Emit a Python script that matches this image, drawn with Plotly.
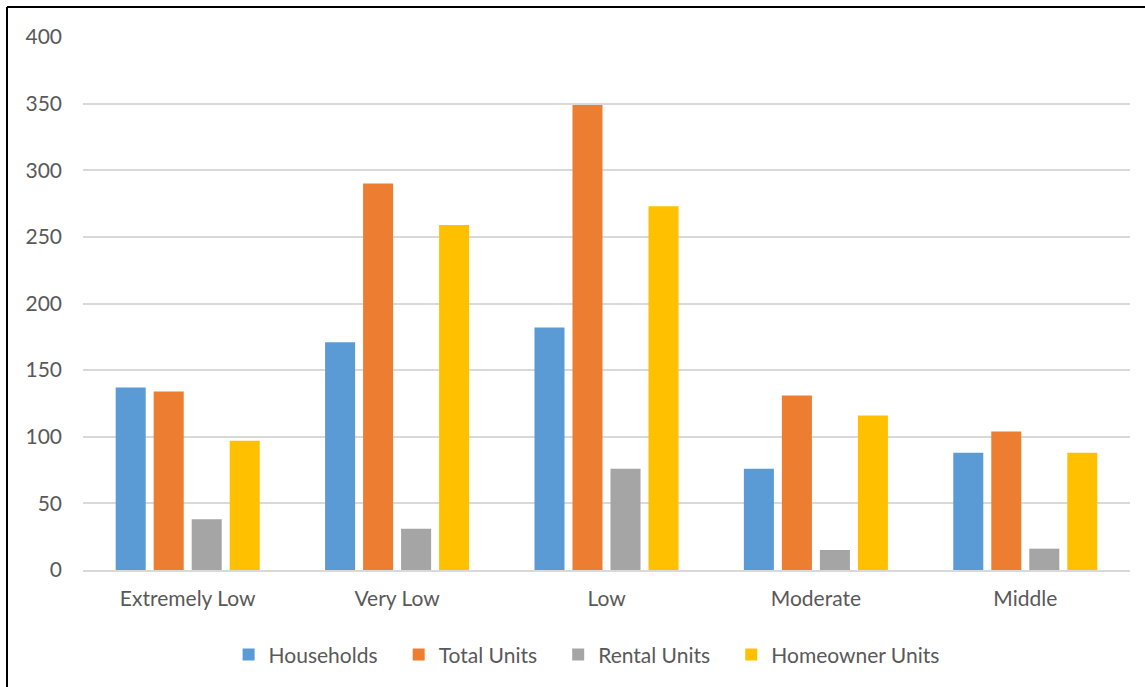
import plotly.graph_objects as go

categories = ["Extremely Low", "Very Low", "Low", "Moderate", "Middle"]
households = [137, 171, 182, 76, 88]
total_units = [134, 290, 349, 131, 104]
rental_units = [38, 31, 76, 15, 16]
homeowner_units = [97, 259, 273, 116, 88]
y_ticks = [0, 50, 100, 150, 200, 250, 300, 350, 400]

series = [
    ("Households", households, "#5B9BD5"),
    ("Total Units", total_units, "#ED7D31"),
    ("Rental Units", rental_units, "#A5A5A5"),
    ("Homeowner Units", homeowner_units, "#FFC000"),
]

W, H = 1145, 687
L, R, T, B = 83, 15, 37, 117
pw, ph = W - L - R, H - T - B
pad = "\u00a0\u00a0\u00a0"

fig = go.Figure()
for i, (name, vals, color) in enumerate(series):
    label = name + (pad if i < len(series) - 1 else "")
    fig.add_trace(go.Bar(x=categories, y=vals, name=label, marker_color=color,
                         marker_line_width=0))

font_family = "Lato, Carlito, Calibri, sans-serif"
fs = 21
fig.update_layout(
    width=W, height=H,
    margin=dict(l=L, r=R, t=T, b=B),
    paper_bgcolor="white", plot_bgcolor="white",
    barmode="group", bargap=0.274, bargroupgap=0.21,
    font=dict(family=font_family, size=fs, color="#595959"),
    showlegend=True,
    legend=dict(orientation="h", x=0.481, xanchor="center", y=-0.159, yanchor="middle",
                font=dict(size=fs, color="#595959"), itemwidth=30, traceorder="normal"),
    xaxis=dict(showgrid=False, showline=True, linecolor="#D9D9D9", linewidth=1.5,
               ticks="", ticklabelstandoff=9, tickfont=dict(size=fs, color="#595959")),
    yaxis=dict(range=[0, 400], tickvals=y_ticks, showgrid=True, gridcolor="#D9D9D9",
               gridwidth=1.5, zeroline=False, showline=False, ticks="",
               ticklabelstandoff=20, tickfont=dict(size=fs, color="#595959")),
)

# frame lines (left and top), partially cropped in the reference
x_left = (7 - L) / pw
y_top = (H - B - 7) / ph
fig.add_shape(type="line", xref="paper", yref="paper", x0=x_left, x1=(W + 10 - L) / pw,
              y0=y_top, y1=y_top, line=dict(color="black", width=2))
fig.add_shape(type="line", xref="paper", yref="paper", x0=x_left, x1=x_left,
              y0=y_top, y1=-(B + 10) / ph, line=dict(color="black", width=2))

fig.write_html("out.html", config={"displayModeBar": False},
               post_script="document.body.style.margin='0';")
